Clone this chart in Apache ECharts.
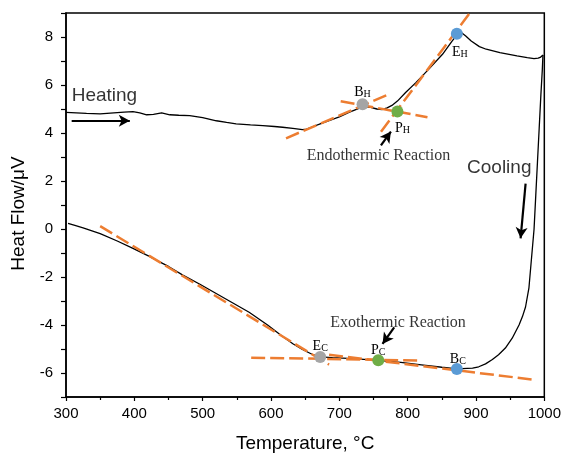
<!DOCTYPE html>
<html>
<head>
<meta charset="utf-8">
<script src="https://cdn.jsdelivr.net/npm/echarts@6/dist/echarts.min.js"></script>
<style>html,body{margin:0;padding:0;background:#fff}#c{width:564px;height:458px}</style>
</head>
<body>
<div id="c"></div>
<script>
// ---- data (temperature °C, heat flow µV) ----
const heating = [[300,4.86],[315,4.84],[330,4.82],[350,4.80],[370,4.84],[385,4.87],[398,4.89],[408,4.84],[418,4.76],[428,4.78],[440,4.84],[452,4.76],[465,4.74],[481,4.72],[500,4.64],[520,4.51],[535,4.44],[549,4.38],[570,4.34],[588,4.31],[605,4.27],[617,4.24],[632,4.19],[646,4.14],[652,4.16],[660,4.25],[672,4.38],[685,4.52],[700,4.67],[714,4.86],[725,4.98],[735,5.1],[746,5.07],[755,5.0],[763,4.98],[770,5.05],[777,5.15],[785,5.33],[797,5.69],[812,6.1],[831,6.66],[851,7.28],[865,7.83],[873,8.12],[879,8.18],[885,8.04],[893,7.83],[905,7.6],[915,7.49],[935,7.35],[960,7.21],[975,7.14],[985,7.1],[991,7.12],[994,7.15],[998,7.25]];
const cooling = [[998,7.25],[997,6.6],[995,5.6],[992.5,4.2],[990,2.8],[987.5,1.4],[985,0.0],[981,-1.3],[977.5,-2.45],[972.5,-3.25],[968,-3.65],[963,-4.0],[953,-4.55],[943,-4.96],[933,-5.24],[924,-5.44],[914,-5.62],[904,-5.74],[895,-5.8],[872,-5.83],[850,-5.76],[820,-5.66],[790,-5.56],[757,-5.47],[720,-5.4],[690,-5.36],[672,-5.33],[660,-5.22],[646,-5.02],[632,-4.78],[617,-4.48],[595,-4.0],[568,-3.47],[496,-2.3],[471,-1.92],[450,-1.56],[437,-1.37],[422,-1.14],[398,-0.81],[375,-0.5],[350,-0.19],[325,0.05],[313,0.15],[303,0.23]];
const tangentH1 = [[622,3.78],[773,5.62]];
const tangentH2 = [[702,5.32],[829,4.66]];
const tangentH3 = [[761,4.05],[891,9.0]];
const tangentC1 = [[350,0.12],[685,-5.65]];
const tangentC2 = [[571,-5.36],[817,-5.48]];
const tangentC3 = [[685,-5.24],[982,-6.27]];
const keyNames = ['B','H','P','H','E','H','E','C','P','C','B','C'];
const keyPoints = [[734,5.2],[785,4.9],[872,8.14],[672,-5.33],[757,-5.47],[872,-5.83]];
const keyColors = ['#A5A5A5','#70AD47','#5B9BD5','#A5A5A5','#70AD47','#5B9BD5'];
const keyLabelOffsets = [[0,-13],[5,16],[3,18],[0,-12],[0,-11],[1,-11]];
const notes = [
  {text:'Heating', at:[308.3,5.54], align:'left', font:'sans'},
  {text:'Cooling', at:[886.9,2.55], align:'left', font:'sans'},
  {text:'Endothermic Reaction', at:[757.2,3.06], align:'center', font:'serif'},
  {text:'Exothermic Reaction', at:[786,-3.92], align:'center', font:'serif'}
];
const arrows = [
  [[308.3,4.51],[393.4,4.51]],
  [[972.6,1.89],[965.3,-0.39]],
  [[760.9,3.48],[775.5,4.06]],
  [[780.3,-4.1],[763.2,-4.79]]
];
const xTicks = {min:300, max:1000, step:100};
const yTicks = {min:-7, max:9, step:1};

const SANS = 'Liberation Sans, Arial, sans-serif';
const SERIF = 'Liberation Serif, Times New Roman, serif';
const ORANGE = '#ED7D31';

const chart = echarts.init(document.getElementById('c'), null, {renderer:'canvas'});

function dashed(d){
  return {type:'line', data:d, symbol:'none', silent:true, z:3,
    lineStyle:{color:ORANGE, width:2.5, type:[14,5]}};
}

const series = [
  {type:'line', data:heating, symbol:'none', z:2, lineStyle:{color:'#000', width:1.3},
   markLine:{silent:true, symbol:['none','arrow'], symbolSize:[9,11], animation:false,
     lineStyle:{color:'#000', width:2.2, type:'solid'}, label:{show:false},
     data: arrows.map(a => [{coord:a[0]},{coord:a[1]}])}},
  {type:'line', data:cooling, symbol:'none', z:2, lineStyle:{color:'#000', width:1.3}},
  dashed(tangentH1), dashed(tangentH2), dashed(tangentH3),
  dashed(tangentC1), dashed(tangentC2), dashed(tangentC3),
  {type:'scatter', z:5, symbolSize:12,
   data: keyPoints.map((p,i)=>({value:p, itemStyle:{color:keyColors[i], opacity:1},
     label:{show:true, position:'inside', offset:keyLabelOffsets[i], color:'#000',
       formatter:'{m|'+keyNames[2*i]+'}{s|'+keyNames[2*i+1]+'}'}})),
   label:{color:'#000', rich:{
     m:{fontFamily:SERIF, fontSize:14, color:'#000', lineHeight:16, verticalAlign:'bottom'},
     s:{fontFamily:SERIF, fontSize:10, color:'#000', lineHeight:10, verticalAlign:'bottom'}
   }}},
  {type:'scatter', z:6, symbolSize:0, silent:true,
   data: notes.map(n=>({value:n.at,
     label:{show:true, position:'inside', align:n.align, verticalAlign:'middle', formatter:n.text,
       fontFamily: n.font==='sans'?SANS:SERIF, fontSize: n.font==='sans'?19:16, color:'#000'}}))}
];

chart.setOption({
  animation:false,
  grid:{left:66, right:18, top:13, bottom:58, show:true, borderColor:'#000', borderWidth:1.5},
  xAxis:{type:'value', min:xTicks.min, max:xTicks.max, interval:xTicks.step,
    axisLine:{show:true, onZero:false, lineStyle:{color:'#000', width:1.5}},
    axisTick:{show:true, length:4, lineStyle:{color:'#000', width:1.2}},
    minorTick:{show:true, splitNumber:2, length:3, lineStyle:{color:'#000', width:1.2}},
    splitLine:{show:false},
    axisLabel:{fontFamily:SANS, fontSize:15, color:'#000', margin:9, formatter: v => String(v)},
    name:'Temperature, °C', nameLocation:'middle', nameGap:37,
    nameTextStyle:{fontFamily:SANS, fontSize:19, color:'#000'}},
  yAxis:{type:'value', min:yTicks.min, max:yTicks.max, interval:yTicks.step,
    axisLine:{show:true, onZero:false, lineStyle:{color:'#000', width:1.5}},
    axisTick:{show:true, length:5, lineStyle:{color:'#000', width:1.2}},
    splitLine:{show:false},
    axisLabel:{fontFamily:SANS, fontSize:15, color:'#000', margin:13,
      formatter: v => (Math.round(v)%2===0 ? String(v) : '')},
    name:'Heat Flow/\u03BCV', nameLocation:'middle', nameGap:36,
    nameTextStyle:{fontFamily:SANS, fontSize:19, color:'#000', padding:[0,17,0,0]}},
  series: series
});
</script>
</body>
</html>
